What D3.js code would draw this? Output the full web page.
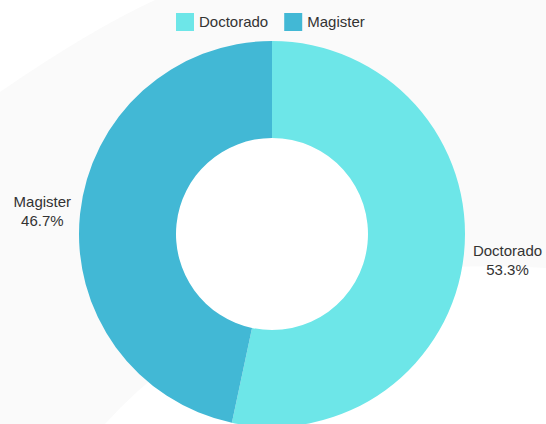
<!DOCTYPE html>
<html>
<head>
<meta charset="utf-8">
<script src="https://cdn.jsdelivr.net/npm/d3@7"></script>
<style>
  body { margin: 0; background: #fff; }
  svg { display: block; }
  text { font-family: "Liberation Sans", Arial, sans-serif; fill: #333; }
</style>
</head>
<body>
<script>
var categories = ["Doctorado", "Magister"];
var values = [8, 7];
var colors = ["#6de6e8", "#42b8d5"];

var width = 546, height = 424;
var cx = 272, cy = 234, outerR = 193, innerR = 96;

var svg = d3.select('body').append('svg')
    .attr('width', width)
    .attr('height', height);

// faint page background
svg.append('rect').attr('width', width).attr('height', height).attr('fill', '#fafafa');
svg.append('path')
    .attr('d', 'M0,0 L155,0 Q90,30 0,92 Z')
    .attr('fill', '#fff');
svg.append('path')
    .attr('d', 'M105,424 Q200,320 348,276 Q450,262 546,268 L546,424 Z')
    .attr('fill', '#fff');

var total = d3.sum(values);
var data = categories.map(function (c, i) {
    return { name: c, value: values[i], color: colors[i] };
});

var pie = d3.pie().sort(null).value(function (d) { return d.value; });
var arc = d3.arc().innerRadius(innerR).outerRadius(outerR);

var g = svg.append('g').attr('transform', 'translate(' + cx + ',' + cy + ')');

// white hole
g.append('circle').attr('r', innerR).attr('fill', '#fff');

var arcs = pie(data);
g.selectAll('path.slice')
    .data(arcs)
    .enter()
    .append('path')
    .attr('class', 'slice')
    .attr('d', arc)
    .attr('fill', function (d) { return d.data.color; });

// outside labels
arcs.forEach(function (d) {
    var a = (d.startAngle + d.endAngle) / 2;
    var sx = Math.sin(a), sy = -Math.cos(a);
    var lg = g.append('g');
    lg.append('text').attr('text-anchor', 'middle').attr('y', -4)
        .style('font-size', '15px').text(d.data.name);
    lg.append('text').attr('text-anchor', 'middle').attr('y', 15)
        .style('font-size', '15px')
        .text((d.data.value / total * 100).toFixed(1) + '%');
    var w = lg.node().getBBox().width;
    var r = outerR + 9;
    var x = sx * r + (sx > 0 ? w / 2 : -w / 2);
    var y = sy * (outerR + 40) + 1.5;
    lg.attr('transform', 'translate(' + x + ',' + y + ')');
});

// legend
var legend = svg.append('g').attr('transform', 'translate(176,13)');
var lx = 0;
data.forEach(function (d) {
    var item = legend.append('g').attr('transform', 'translate(' + lx + ',0)');
    item.append('rect').attr('width', 18).attr('height', 18).attr('fill', d.color);
    var t = item.append('text').attr('x', 23).attr('y', 14)
        .style('font-size', '15px').text(d.name);
    lx += 23 + t.node().getComputedTextLength() + 16;
});
</script>
</body>
</html>
